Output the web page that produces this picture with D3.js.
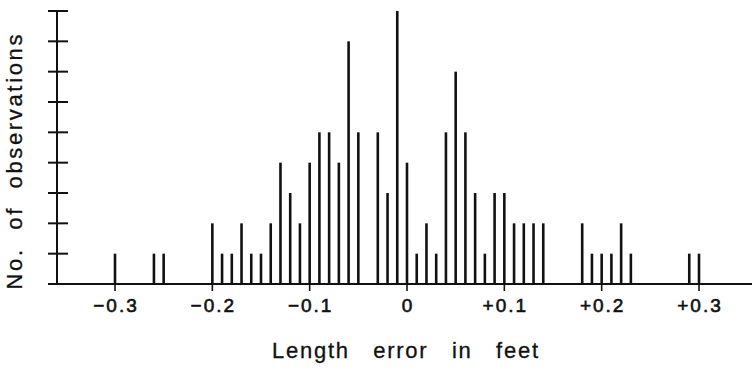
<!DOCTYPE html>
<html>
<head>
<meta charset="utf-8">
<script src="https://cdn.jsdelivr.net/npm/d3@7"></script>
<style>
  body { margin: 0; background: #fff; }
  text { font-family: 'Liberation Sans Narrow', 'Liberation Sans', Arial, sans-serif; fill: #111; }
</style>
</head>
<body>
<div id="chart"></div>
<script>
// length error (feet) and number of observations at each value
var errors = [-0.30, -0.26, -0.25, -0.20, -0.19, -0.18, -0.17, -0.16, -0.15, -0.14,
  -0.13, -0.12, -0.11, -0.10, -0.09, -0.08, -0.07, -0.06, -0.05, -0.03,
  -0.02, -0.01, 0.00, 0.01, 0.02, 0.03, 0.04, 0.05, 0.06, 0.07,
  0.08, 0.09, 0.10, 0.11, 0.12, 0.13, 0.14, 0.18, 0.19, 0.20,
  0.21, 0.22, 0.23, 0.29, 0.30]
var counts = [1, 1, 1, 2, 1, 1, 2, 1, 1, 2,
  4, 3, 2, 4, 5, 5, 4, 8, 5, 5,
  3, 9, 4, 1, 2, 1, 5, 7, 5, 3,
  1, 3, 3, 2, 2, 2, 2, 2, 1, 1,
  1, 2, 1, 1, 1]
var xTicks = [-0.3, -0.2, -0.1, 0, 0.1, 0.2, 0.3]
var xTickLabels = ['\u22120.3', '\u22120.2', '\u22120.1', '0', '+0.1', '+0.2', '+0.3']
var yTicks = [0, 1, 2, 3, 4, 5, 6, 7, 8, 9]

var width = 752
var height = 369
var x0 = 57      // y axis position
var base = 284   // baseline
var gap = '\u00a0\u00a0\u00a0'

var x = d3.scaleLinear()
  .domain([-0.3, 0.3])
  .range([115, 699])

var y = d3.scaleLinear()
  .domain([0, 9])
  .range([base, 11])

var svg = d3.select('#chart').append('svg')
  .attr('width', width)
  .attr('height', height)

// x axis line
svg.append('line')
  .attr('x1', 48)
  .attr('x2', width)
  .attr('y1', base)
  .attr('y2', base)
  .attr('stroke', '#111')
  .attr('stroke-width', 2)

// x ticks (below axis)
svg.selectAll('.xtick')
  .data(xTicks)
  .enter().append('line')
  .attr('class', 'xtick')
  .attr('x1', function (d) { return x(d) })
  .attr('x2', function (d) { return x(d) })
  .attr('y1', base)
  .attr('y2', base + 7)
  .attr('stroke', '#111')
  .attr('stroke-width', 1.6)

svg.selectAll('.xlabel')
  .data(xTicks)
  .enter().append('text')
  .attr('class', 'xlabel')
  .attr('x', function (d) { return x(d) + 1 })
  .attr('y', 312)
  .attr('text-anchor', 'middle')
  .attr('font-size', 19)
  .attr('letter-spacing', 2)
  .attr('stroke', '#111')
  .attr('stroke-width', 0.6)
  .text(function (d, i) { return xTickLabels[i] })

// y axis
svg.append('line')
  .attr('x1', x0)
  .attr('x2', x0)
  .attr('y1', y(9))
  .attr('y2', base)
  .attr('stroke', '#111')
  .attr('stroke-width', 2)

svg.selectAll('.ytick')
  .data(yTicks.filter(function (d) { return d > 0 }))
  .enter().append('line')
  .attr('class', 'ytick')
  .attr('x1', 48)
  .attr('x2', 68)
  .attr('y1', function (d) { return y(d) })
  .attr('y2', function (d) { return y(d) })
  .attr('stroke', '#111')
  .attr('stroke-width', 2)

// spikes
svg.selectAll('.spike')
  .data(errors)
  .enter().append('line')
  .attr('class', 'spike')
  .attr('x1', function (d) { return x(d) })
  .attr('x2', function (d) { return x(d) })
  .attr('y1', base)
  .attr('y2', function (d, i) { return y(counts[i]) })
  .attr('stroke', '#111')
  .attr('stroke-width', 2.6)

// axis titles
svg.append('text')
  .attr('x', 405)
  .attr('y', 358)
  .attr('text-anchor', 'middle')
  .attr('font-size', 22)
  .attr('stroke', '#111')
  .attr('stroke-width', 0.3)
  .attr('textLength', 266)
  .attr('lengthAdjust', 'spacing')
  .text(['Length', 'error', 'in', 'feet'].join(gap))

svg.append('text')
  .attr('transform', 'translate(22,' + 162 + ') rotate(-90)')
  .attr('text-anchor', 'middle')
  .attr('font-size', 22)
  .attr('stroke', '#111')
  .attr('stroke-width', 0.3)
  .attr('textLength', 255)
  .attr('lengthAdjust', 'spacing')
  .text(['No.', 'of', 'observations'].join('\u00a0\u00a0'))
</script>
</body>
</html>
